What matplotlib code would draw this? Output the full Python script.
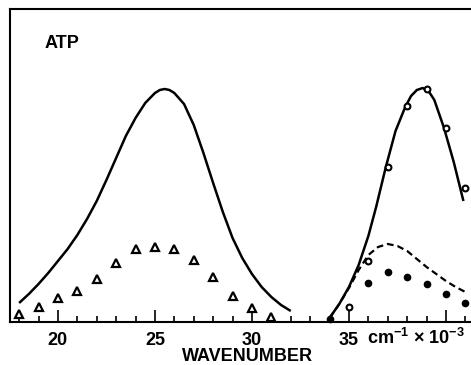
import matplotlib
matplotlib.use("Agg")
import matplotlib.pyplot as plt
from matplotlib.ticker import FixedLocator, MultipleLocator

plt.rcParams['font.family'] = ['Liberation Sans', 'DejaVu Sans']
plt.rcParams['font.weight'] = 'bold'
plt.rcParams['mathtext.default'] = 'regular'

# triangles (first band)
tri_x = [18, 19, 20, 21, 22, 23, 24, 25, 26, 27, 28, 29, 30, 31]
tri_y = [8, 15, 24, 31, 43, 59, 73, 75, 73, 62, 45, 26, 14, 5]

# solid curve, first band
band1_x = [18.0, 18.5, 19.0, 19.5, 20.0, 20.5, 21.0, 21.5, 22.0, 22.5, 23.0,
           23.5, 24.0, 24.5, 25.0, 25.25, 25.5, 25.75, 26.0, 26.5, 27.0,
           27.5, 28.0, 28.5, 29.0, 29.5, 30.0, 30.5, 31.0, 31.5, 32.0]
band1_y = [19, 28, 38, 49, 61, 73, 87, 103, 121, 142, 164,
           186, 204, 219, 229, 232, 233, 232, 229, 218, 197,
           169, 139, 110, 84, 64, 48, 35, 25, 17, 11]

# solid curve, second band
band2_x = [34.0, 34.5, 35.0, 35.5, 36.0, 36.4, 36.9, 37.4, 37.9, 38.2, 38.5,
           38.8, 39.1, 39.4, 39.9, 40.4, 40.9]
band2_y = [4, 18, 35, 57, 86, 115, 155, 191, 215, 226, 232,
           234, 231, 222, 194, 160, 121]

# dashed curve, second band
dash_x = [34.0, 34.5, 35.0, 35.5, 36.0, 36.5, 37.0, 37.5, 38.0, 38.5, 39.0,
          39.5, 40.0, 40.5, 41.0]
dash_y = [4, 18, 34, 52, 67, 75, 78, 76, 71, 63, 55, 48, 41, 35, 30]

# open circles and filled dots
circ_x = [35, 36, 37, 38, 39, 40, 41]
circ_y = [15, 61, 155, 216, 233, 194, 134]
dot_x = [34, 36, 37, 38, 39, 40, 41]
dot_y = [3, 39, 50, 45, 38, 28, 19]

major_ticks = [20, 25, 30, 35, 40]
major_labels = ['20', '25', '30', '35', '']

fig = plt.figure(figsize=(4.71, 3.65), dpi=100)
ax = fig.add_axes([10 / 471, 1 - 322 / 365, 461 / 471, 313 / 365])

ax.plot(band1_x, band1_y, color='black', lw=1.8, solid_capstyle='butt',
        solid_joinstyle='round')
ax.plot(band2_x, band2_y, color='black', lw=1.8, solid_capstyle='butt',
        solid_joinstyle='round')
ax.plot(dash_x, dash_y, color='black', lw=1.6, linestyle=(0, (3, 1.8)))

ax.plot(tri_x, tri_y, linestyle='none', marker='^', ms=6, mfc='white',
        mec='black', mew=1.6, clip_on=False)
ax.plot(circ_x, circ_y, linestyle='none', marker='o', ms=4.2, mfc='white',
        mec='black', mew=1.5, clip_on=False)
ax.plot(dot_x, dot_y, linestyle='none', marker='o', ms=4.5, color='black',
        clip_on=False)

ax.set_xlim(17.53, 41.29)
ax.set_ylim(0, 313)

ax.xaxis.set_major_locator(FixedLocator(major_ticks))
ax.set_xticklabels(major_labels)
ax.xaxis.set_minor_locator(MultipleLocator(1))
ax.tick_params(axis='x', which='major', direction='in', length=8.5, width=1.2,
               pad=7, labelsize=13)
ax.tick_params(axis='x', which='minor', direction='in', length=4.5, width=1.2)
ax.set_yticks([])

for side in ['left', 'top', 'bottom']:
    ax.spines[side].set_linewidth(1.5)
ax.spines['right'].set_visible(False)

ax.text(35 / 461, 1 - (48 - 9) / 313, 'ATP', transform=ax.transAxes,
        fontsize=13, fontweight='bold', va='baseline', ha='left')

fig.text(367 / 471, 1 - 344 / 365, 'cm$^{-1}$ \u00d7 10$^{-3}$', fontsize=13,
         fontweight='bold', va='baseline', ha='left')
fig.text(248 / 471, 1 - 361 / 365, 'WAVENUMBER', fontsize=13,
         fontweight='bold', va='baseline', ha='center')

fig.savefig('out.png', dpi=100)
